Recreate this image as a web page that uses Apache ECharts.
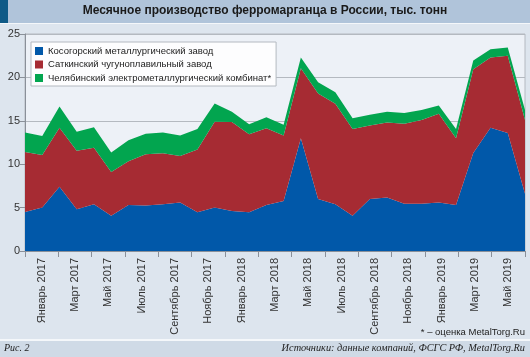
<!DOCTYPE html>
<html>
<head>
<meta charset="utf-8">
<script src="https://cdn.jsdelivr.net/npm/echarts@6/dist/echarts.min.js"></script>
<style>
html,body{margin:0;padding:0;background:#dde5ee;}
#c{width:530px;height:357px;}
</style>
</head>
<body>
<div id="c"></div>
<script>
var months = ['Январь 2017','Февраль 2017','Март 2017','Апрель 2017','Май 2017','Июнь 2017','Июль 2017','Август 2017','Сентябрь 2017','Октябрь 2017','Ноябрь 2017','Декабрь 2017',
'Январь 2018','Февраль 2018','Март 2018','Апрель 2018','Май 2018','Июнь 2018','Июль 2018','Август 2018','Сентябрь 2018','Октябрь 2018','Ноябрь 2018','Декабрь 2018',
'Январь 2019','Февраль 2019','Март 2019','Апрель 2019','Май 2019','Июнь 2019'];
var tickLabels = ['Январь 2017','Март 2017','Май 2017','Июль 2017','Сентябрь 2017','Ноябрь 2017','Январь 2018','Март 2018','Май 2018','Июль 2018','Сентябрь 2018','Ноябрь 2018','Январь 2019','Март 2019','Май 2019'];
var kosogorsky = [4.5,5.0,7.4,4.8,5.4,4.05,5.3,5.25,5.4,5.6,4.45,5.0,4.6,4.45,5.3,5.75,13.0,6.0,5.4,4.05,6.0,6.15,5.45,5.45,5.6,5.3,11.3,14.2,13.6,6.6];
var satka = [6.9,6.05,6.8,6.75,6.5,5.05,5.05,5.9,5.85,5.35,7.25,9.9,10.25,9.0,8.85,7.55,8.05,12.15,11.55,10.0,8.45,8.65,9.2,9.65,10.2,7.7,9.65,8.1,8.9,8.5];
var chelyabinsk = [2.25,2.2,2.45,2.2,2.35,2.25,2.4,2.35,2.4,2.35,2.35,2.1,1.2,1.15,1.25,1.25,1.25,1.3,1.35,1.25,1.25,1.25,1.25,1.15,0.95,1.05,1.0,0.95,0.95,1.15];
var seriesNames = ['Косогорский металлургический завод','Саткинский чугуноплавильный завод','Челябинский электрометаллургический комбинат*'];
var colors = ['#0158a9','#a62b33','#02a54f'];

var chart = echarts.init(document.getElementById('c'), null, {renderer:'canvas'});
var sans = 'Liberation Sans, Arial, sans-serif';
var serif = 'Liberation Serif, DejaVu Serif, serif';
function areaSeries(name, data, color){
  return {name:name, type:'line', stack:'total', data:data, xAxisIndex:0, symbol:'none',
    lineStyle:{width:0}, areaStyle:{color:color, opacity:1}, itemStyle:{color:color}, animation:false};
}
chart.setOption({
  animation:false,
  backgroundColor:'#dde5ee',
  color:colors,
  grid:{left:25, right:5, top:34, bottom:106, show:true, backgroundColor:'#edf1f7', borderColor:'#b4b9c0', borderWidth:1},
  legend:{
    orient:'vertical', left:31, top:42, icon:'rect', itemWidth:8, itemHeight:8, itemGap:3.5,
    backgroundColor:'#fdfdfe', borderColor:'#b4b9c0', borderWidth:1, padding:[4,5,3,4],
    textStyle:{fontFamily:sans, fontSize:9.5, color:'#222'},
    data:seriesNames
  },
  xAxis:[
    {type:'category', data:months, boundaryGap:false, show:false},
    {type:'category', data:tickLabels, boundaryGap:true, position:'bottom',
     axisLine:{lineStyle:{color:'#8a9099'}},
     axisTick:{show:true, length:6, lineStyle:{color:'#8a9099'}, alignWithLabel:false},
     axisLabel:{rotate:90, interval:0, fontFamily:sans, fontSize:11, color:'#333', margin:7}}
  ],
  yAxis:{type:'value', min:0, max:25, interval:5,
    axisLine:{show:true, lineStyle:{color:'#8a9099'}},
    axisTick:{show:true, length:5, lineStyle:{color:'#8a9099'}},
    splitLine:{lineStyle:{color:'#b4b9c0'}},
    axisLabel:{fontFamily:sans, fontSize:11, color:'#333', margin:5}},
  series:[
    areaSeries(seriesNames[0], kosogorsky, colors[0]),
    areaSeries(seriesNames[1], satka, colors[1]),
    areaSeries(seriesNames[2], chelyabinsk, colors[2])
  ],
  graphic:[
    {type:'rect', shape:{x:0,y:0,width:530,height:23}, style:{fill:'#b0c4da'}, z:-1},
    {type:'rect', shape:{x:0,y:0,width:8,height:23}, style:{fill:'#0e5a87'}, z:-1},
    {type:'rect', shape:{x:0,y:23,width:530,height:1}, style:{fill:'#f4f7fa'}, z:-1},
    {type:'text', left:'center', top:5, style:{text:'Месячное производство ферромарганца в России, тыс. тонн', font:'bold 12px '+sans, fill:'#1a1a1a'}},
    {type:'rect', shape:{x:0,y:339,width:530,height:2}, style:{fill:'#f4f7fa'}, z:-1},
    {type:'rect', shape:{x:0,y:341,width:530,height:16}, style:{fill:'#cfdae6'}, z:-1},
    {type:'text', left:4, top:343, style:{text:'Рис. 2', font:'italic 10px '+serif, fill:'#222'}},
    {type:'text', right:5, top:343, style:{text:'Источники: данные компаний, ФСГС РФ, MetalTorg.Ru', font:'italic 10.3px '+serif, fill:'#222'}},
    {type:'text', right:5, top:327, style:{text:'* – оценка MetalTorg.Ru', font:'9.5px '+sans, fill:'#222'}}
  ]
});
</script>
</body>
</html>
